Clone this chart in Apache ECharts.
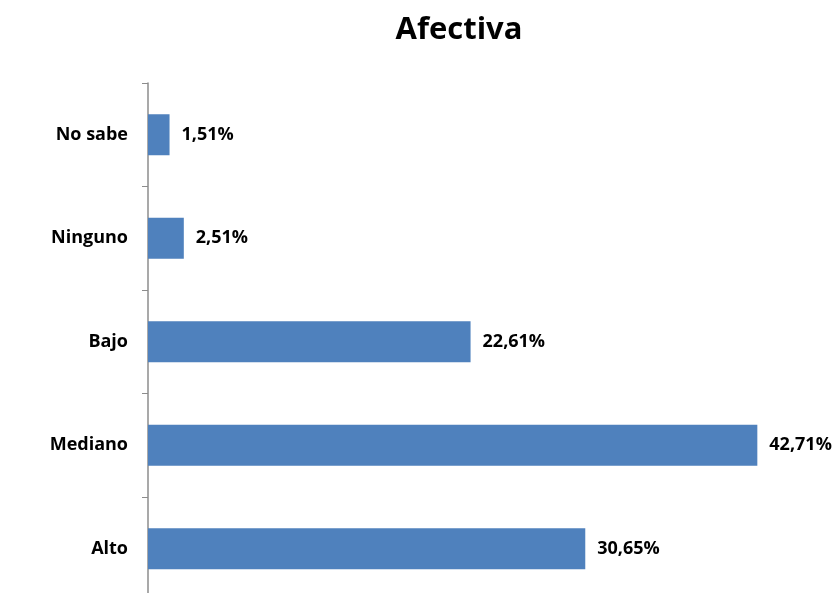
<!DOCTYPE html>
<html><head><meta charset="utf-8">
<script src="https://cdn.jsdelivr.net/npm/echarts@6/dist/echarts.min.js"></script>
<style>html,body{margin:0;padding:0;background:#fff}#c{width:840px;height:593px}</style>
</head><body><div id="c"></div>
<script>
const categories = ['Alto', 'Mediano', 'Bajo', 'Ninguno', 'No sabe'];
const values = [30.65, 42.71, 22.61, 2.51, 1.51];
const titleText = 'Afectiva';

const chart = echarts.init(document.getElementById('c'));
chart.setOption({
  animation: false,
  title: {
    text: titleText, left: 454, top: 10, textAlign: 'center',
    textStyle: { fontFamily: 'Open Sans', fontWeight: 'bold', fontSize: 31, color: '#000' }
  },
  grid: { left: 148, width: 642, top: 83, height: 517.5, outerBoundsMode: 'none', containLabel: false },
  xAxis: { type: 'value', min: 0, max: 45, show: false },
  yAxis: {
    type: 'category', data: categories,
    axisLine: { show: true, lineStyle: { color: '#8c8c8c', width: 1.5 } },
    axisTick: { show: true, length: 6, lineStyle: { color: '#8c8c8c', width: 1 } },
    axisLabel: { margin: 20, fontFamily: 'Open Sans', fontWeight: 'bold', fontSize: 18, color: '#000' },
    splitLine: { show: false }
  },
  series: [{
    type: 'bar', data: values, barWidth: 41,
    itemStyle: { color: '#4f81bd' },
    label: {
      show: true, position: 'right', distance: 12,
      fontFamily: 'Open Sans', fontWeight: 'bold', fontSize: 18, color: '#000',
      formatter: p => p.value.toFixed(2).replace('.', ',') + '%'
    }
  }]
});
</script></body></html>
